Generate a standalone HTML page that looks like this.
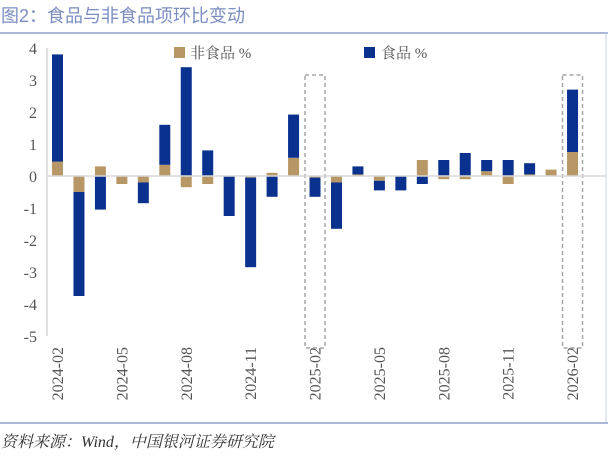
<!DOCTYPE html>
<html><head><meta charset="utf-8"><style>
html,body{margin:0;padding:0;background:#fff;width:608px;height:459px;overflow:hidden}
text{font-family:"Liberation Serif","Noto Serif CJK SC",serif}
</style></head><body>
<svg id="chart" width="608" height="459" xmlns="http://www.w3.org/2000/svg">
<text x="1" y="22" font-size="18" fill="#7b8dc3" style="font-family:'Liberation Sans','Noto Sans CJK SC',sans-serif">图2：食品与非食品项环比变动</text>
<line x1="0" y1="33" x2="608" y2="33" stroke="#7b8dc3" stroke-width="1.2"/>
<line x1="606" y1="33" x2="606" y2="423" stroke="#c9d0e4" stroke-width="1"/>
<line x1="0" y1="423" x2="608" y2="423" stroke="#7b8dc3" stroke-width="1.2"/>
<text x="1" y="447" font-size="16" font-style="italic" fill="#333">资料来源：Wind，中国银河证券研究院</text>
<g>
<rect x="174" y="47" width="11" height="11" fill="#b89766"/>
<text x="190" y="58" font-size="15" fill="#555">非食品 %</text>
<rect x="364" y="47" width="11" height="11" fill="#0b318f"/>
<text x="381" y="58" font-size="15" fill="#555">食品 %</text>
</g>
<g id="plot"></g>
</svg>
<script>
const months=["2024-02","2024-03","2024-04","2024-05","2024-06","2024-07","2024-08","2024-09","2024-10","2024-11","2024-12","2025-01","2025-02","2025-03","2025-04","2025-05","2025-06","2025-07","2025-08","2025-09","2025-10","2025-11","2025-12","2026-01","2026-02"];
const nonFood=[0.45,-0.5,0.3,-0.25,-0.2,0.35,-0.35,-0.25,0,-0.05,0.1,0.57,-0.05,-0.2,0.05,-0.15,0,0.5,-0.1,-0.1,0.15,-0.25,0.05,0.2,0.75];
const food=[3.35,-3.25,-1.05,0,-0.65,1.25,3.4,0.8,-1.25,-2.8,-0.65,1.35,-0.6,-1.45,0.25,-0.3,-0.45,-0.25,0.5,0.72,0.35,0.5,0.35,0,1.95];
const yTicks=[4,3,2,1,0,-1,-2,-3,-4,-5];
const highlighted=["2025-02","2026-02"];
const NS="http://www.w3.org/2000/svg";
const g=document.getElementById('plot');
const y=v=>176-v*32;
const x=i=>57.5+i*21.46;
const bw=11;
function mk(t,a){const e=document.createElementNS(NS,t);for(const k in a)e.setAttribute(k,a[k]);g.appendChild(e);return e;}
let e=mk('line',{x1:47,y1:y(4),x2:47,y2:y(-5),stroke:'#d9d9d9','stroke-width':1.5});


yTicks.forEach(t=>{const l=mk('text',{x:37,y:y(t)+6,'text-anchor':'end','font-size':16,fill:'#555'});l.textContent=t;

});
months.forEach((m,i)=>{
  let pos=0,neg=0;
  [[nonFood[i],'#b89766','bar-nonfood-'+m],[food[i],'#0b318f','bar-food-'+m]].forEach(([v,c,n])=>{
    let y0,y1;
    if(v>=0){y0=pos;y1=pos+v;pos=y1;}else{y0=neg;y1=neg+v;neg=y1;}
    const r=mk('rect',{x:x(i)-bw/2,y:Math.min(y(y0),y(y1)),width:bw,height:Math.abs(y(y0)-y(y1)),fill:c});
    
    
  });
  if(i%3===0){
    const t=mk('text',{x:0,y:0,'font-size':16,fill:'#555','text-anchor':'end',transform:`translate(${x(i)+5.5},347) rotate(-90)`});
    t.textContent=m;
    
    
  }
  if(highlighted.includes(m)){
    const b=mk('rect',{x:x(i)-10,y:75,width:20,height:273,fill:'none',stroke:'#a6a6a6','stroke-width':1.5,'stroke-dasharray':'4,3'});
    
    
  }
});
e=mk('line',{x1:47,y1:176,x2:606,y2:176,stroke:'#d9d9d9','stroke-width':1.5});


</script>
</body></html>
